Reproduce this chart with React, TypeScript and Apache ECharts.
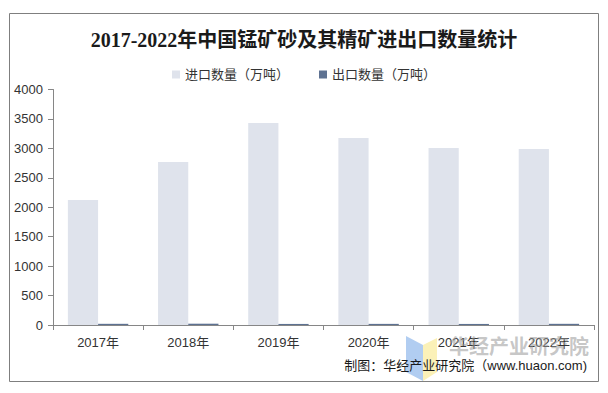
import React, { useEffect, useRef } from "react";
import * as echarts from "echarts";

const categories = ["2017年", "2018年", "2019年", "2020年", "2021年", "2022年"];
const importValues = [2123, 2769, 3431, 3176, 3007, 2990];
const exportValues = [20, 22, 18, 19, 18, 20];
const seriesNames = ["进口数量（万吨）", "出口数量（万吨）"];
const yTicks = { min: 0, max: 4000, interval: 500 };
const titleText = "2017-2022年中国锰矿砂及其精矿进出口数量统计";
const sourceText = "制图：华经产业研究院（www.huaon.com)";
const watermarkText = "华经产业研究院";

export default function App() {
  const ref = useRef<HTMLDivElement>(null);
  useEffect(() => {
    if (!ref.current) return;
    const chart = echarts.init(ref.current, null, { renderer: "svg" });
    const labelFont = "'Liberation Sans', Arial, 'Noto Sans CJK SC', sans-serif";
    chart.setOption({
      animation: false,
      backgroundColor: "#ffffff",
      title: {
        text: titleText,
        left: "center",
        top: 25,
        textStyle: {
          fontFamily: "'Liberation Serif', 'Times New Roman', 'Noto Sans CJK SC', serif",
          fontSize: 20,
          fontWeight: "bold",
          color: "#1a1a1a",
        },
      },
      legend: {
        top: 63,
        left: "center",
        itemWidth: 8,
        itemHeight: 8,
        itemGap: 30,
        icon: "rect",
        textStyle: { fontFamily: labelFont, fontSize: 13, color: "#333" },
        data: seriesNames,
      },
      grid: { left: 53, right: 14, top: 89.5, bottom: 68, containLabel: false },
      xAxis: {
        type: "category",
        data: categories,
        axisLine: { lineStyle: { color: "#868686", width: 1 } },
        axisTick: { show: true, length: 5, lineStyle: { color: "#868686" } },
        axisLabel: { fontFamily: labelFont, fontSize: 13, color: "#333", margin: 11 },
      },
      yAxis: {
        type: "value",
        min: yTicks.min,
        max: yTicks.max,
        interval: yTicks.interval,
        axisLine: { show: true, lineStyle: { color: "#868686", width: 1 } },
        axisTick: { show: true, length: 5, lineStyle: { color: "#868686" } },
        splitLine: { show: false },
        axisLabel: {
          fontFamily: labelFont,
          fontSize: 13,
          color: "#333",
          margin: 10,
          formatter: (v: number) => String(v),
        },
      },
      series: [
        {
          name: seriesNames[0],
          type: "bar",
          data: importValues,
          barWidth: "33.5%",
          barGap: "0%",
          itemStyle: { color: "#DFE3EC" },
        },
        {
          name: seriesNames[1],
          type: "bar",
          data: exportValues,
          barWidth: "33.5%",
          barGap: "0%",
          itemStyle: { color: "#5E7292" },
        },
      ],
      graphic: [
        {
          type: "rect",
          shape: { x: 9.5, y: 13.5, width: 589, height: 368 },
          style: { fill: "none", stroke: "#7f7f7f", lineWidth: 1 },
          silent: true,
          z: -1,
        },
        {
          type: "polygon",
          shape: { points: [[406, 336], [423, 345], [423, 381], [406, 372]] },
          style: { fill: "#A9C8F0", opacity: 0.9 },
          z: 10,
        },
        {
          type: "polygon",
          shape: { points: [[423, 345], [437, 338], [437, 372], [423, 381]] },
          style: { fill: "#FBEFB0", opacity: 0.9 },
          z: 10,
        },
        {
          type: "text",
          x: 449,
          y: 345,
          style: {
            text: watermarkText,
            fontSize: 20,
            fontWeight: "bold",
            fontFamily: "'Noto Sans CJK SC', sans-serif",
            fill: "rgba(150,150,150,0.55)",
            verticalAlign: "middle",
            textAlign: "left",
          },
          z: 11,
        },
        {
          type: "text",
          x: 587,
          y: 365,
          style: {
            text: sourceText,
            fontSize: 13,
            fontFamily: labelFont,
            fill: "#1a1a1a",
            verticalAlign: "middle",
            textAlign: "right",
          },
          z: 12,
        },
      ],
    });
    return () => chart.dispose();
  }, []);
  return <div ref={ref} style={{ width: 608, height: 393, position: "absolute", left: 0, top: 0 }} />;
}
